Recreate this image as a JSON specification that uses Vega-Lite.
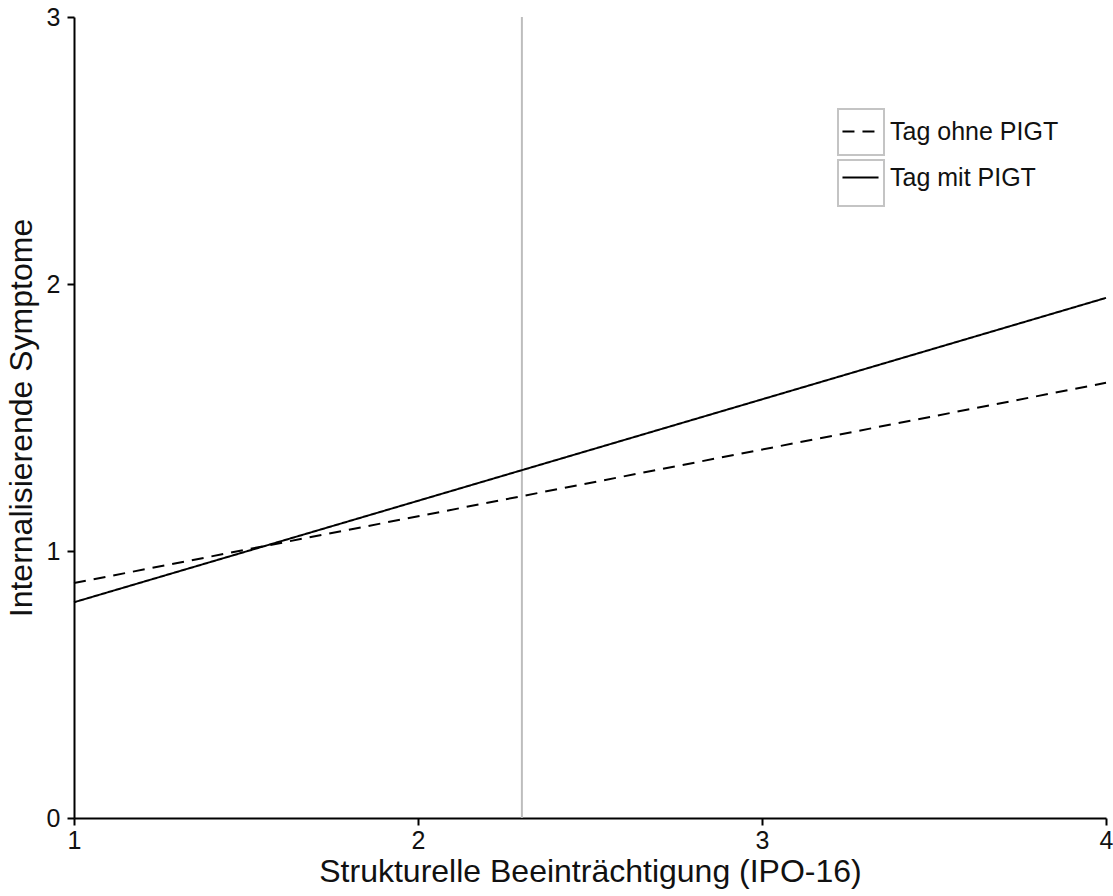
{
  "$schema": "https://vega.github.io/schema/vega-lite/v6.json",
  "width": 1032,
  "height": 801,
  "autosize": {"type": "none"},
  "padding": {"left": 74, "top": 17, "right": 7, "bottom": 78},
  "background": "white",
  "config": {
    "view": {"stroke": null},
    "font": "Liberation Sans",
    "axis": {"grid": false, "domainColor": "black", "domainWidth": 2, "tickColor": "black", "tickWidth": 2, "tickSize": 7, "labelColor": "#111", "titleColor": "#111", "labelFont": "Liberation Sans", "titleFont": "Liberation Sans", "titleFontWeight": "normal", "labelFontSize": 25, "titleFontSize": 32, "labelFlush": false, "labelOverlap": false}
  },
  "datasets": {
    "lines": [
      {"x": 1, "y": 0.88, "Gruppe": "Tag ohne PIGT"},
      {"x": 4, "y": 1.63, "Gruppe": "Tag ohne PIGT"},
      {"x": 1, "y": 0.808, "Gruppe": "Tag mit PIGT"},
      {"x": 4, "y": 1.948, "Gruppe": "Tag mit PIGT"}
    ],
    "rule": [{"x": 2.302}],
    "boxes": [
      {"x": 1, "y": 0, "Box": "ohne"},
      {"x": 1, "y": 0, "Box": "mit"}
    ]
  },
  "layer": [
    {
      "data": {"name": "rule"},
      "mark": {"type": "rule", "color": "#bdbdbd", "strokeWidth": 2},
      "encoding": {"x": {"field": "x", "type": "quantitative"}}
    },
    {
      "data": {"name": "boxes"},
      "mark": {"type": "point", "opacity": 0},
      "encoding": {
        "x": {"field": "x", "type": "quantitative"},
        "y": {"field": "y", "type": "quantitative"},
        "shape": {"field": "Box", "type": "nominal",
          "scale": {"domain": ["ohne", "mit"], "range": ["square", "square"]},
          "legend": {"title": null, "orient": "none", "legendX": 763, "legendY": 91, "symbolType": "square", "symbolSize": 2116, "symbolFillColor": "transparent", "symbolStrokeColor": "#c4c4c4", "symbolStrokeWidth": 2, "symbolOpacity": 1, "labelExpr": "''", "labelFontSize": 1, "labelOffset": 0, "rowPadding": -20, "padding": 0}}
      }
    },
    {
      "data": {"name": "lines"},
      "mark": {"type": "line", "color": "black", "strokeWidth": 2},
      "encoding": {
        "x": {"field": "x", "type": "quantitative", "scale": {"domain": [1, 4], "nice": false, "zero": false},
          "axis": {"values": [1, 2, 3, 4], "format": "d", "labelFontSize": 25, "titleFontSize": 32, "title": "Strukturelle Beeinträchtigung (IPO-16)", "labelPadding": 3, "titlePadding": 3}},
        "y": {"field": "y", "type": "quantitative", "scale": {"domain": [0, 3], "nice": false},
          "axis": {"values": [0, 1, 2, 3], "format": "d", "labelFontSize": 25, "titleFontSize": 32, "title": "Internalisierende Symptome", "labelPadding": 7, "titlePadding": 8}},
        "strokeDash": {"field": "Gruppe", "type": "nominal",
          "scale": {"domain": ["Tag ohne PIGT", "Tag mit PIGT"], "range": [[12, 8], [1, 0]]},
          "legend": {"title": null, "orient": "none", "legendX": 767, "legendY": 95, "symbolType": "stroke", "symbolStrokeColor": "black", "symbolStrokeWidth": 2, "symbolSize": 1300, "symbolDash": [12, 10], "labelFontSize": 25, "labelLimit": 0, "labelColor": "#111", "labelOffset": 10, "rowPadding": 13, "padding": 0}},
        "detail": {"field": "Gruppe"}
      }
    }
  ]
}
